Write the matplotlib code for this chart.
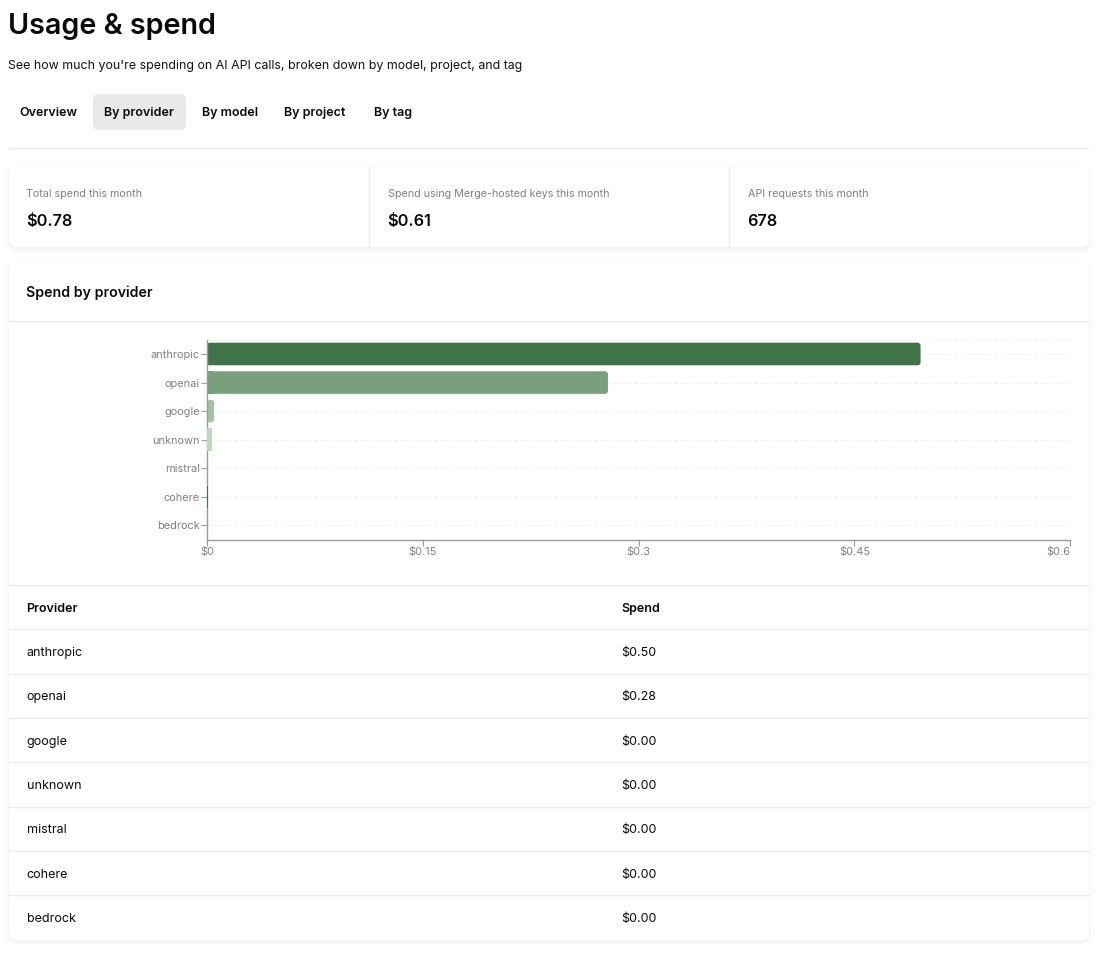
# Usage & spend page - spend by provider

import matplotlib
matplotlib.use('Agg')
import matplotlib.pyplot as plt
from matplotlib.patches import FancyBboxPatch

plt.rcParams['font.family'] = ['Inter', 'DejaVu Sans']

# -------------------------------
# Data
# -------------------------------
providers = ['anthropic', 'openai', 'google', 'unknown', 'mistral', 'cohere', 'bedrock']
spend = [0.496, 0.2787, 0.0049, 0.0035, 0.0002, 0.0008, 0.0001]
spend_labels = ['$0.50', '$0.28', '$0.00', '$0.00', '$0.00', '$0.00', '$0.00']
bar_colors = ['#41734a', '#7a9f7d', '#a7c0a9', '#c2d4c4', '#dbe5dc', '#41734a', '#a7c0a9']
x_ticks = [0, 0.15, 0.3, 0.45, 0.6]
x_tick_labels = ['$0', '$0.15', '$0.3', '$0.45', '$0.6']
tabs = ['Overview', 'By provider', 'By model', 'By project', 'By tag']
tab_x = [20, 105, 202, 285, 374]
stat_titles = ['Total spend this month', 'Spend using Merge-hosted keys this month', 'API requests this month']
stat_values = ['$0.78', '$0.61', '678']
stat_x = [27, 388, 748]
row_lines = [585, 629, 674, 718, 762, 807, 851, 895]
row_text_y = [651, 695, 740, 784, 828, 873, 917]

W, H = 1103, 956
fig = plt.figure(figsize=(W / 100, H / 100), dpi=100, facecolor='white')

# page axes works in pixels, y going down
page = fig.add_axes([0, 0, 1, 1])
page.set_xlim(0.7, W + 0.7)
page.set_ylim(H + 0.7, 0.7)
page.axis('off')


def label(x, y, s, **kw):
    # text sits a bit high with va=center, so push it down
    page.text(x + 0.2, y + 2.2, s, va='center', **kw)


def card(x0, y0, x1, y1):
    # soft shadow first, then the white card
    for grow, a in [(6, 0.005), (4, 0.008), (2, 0.012), (1, 0.016)]:
        page.add_patch(FancyBboxPatch((x0 - grow, y0 - grow + 2), x1 - x0 + 2 * grow, y1 - y0 + 2 * grow,
                                      boxstyle='round,pad=0,rounding_size=%d' % (8 + grow),
                                      fc='black', ec='none', alpha=a))
    page.add_patch(FancyBboxPatch((x0, y0), x1 - x0, y1 - y0, boxstyle='round,pad=0,rounding_size=8',
                                  fc='white', ec='none'))


# -------------------------------
# Header and tabs
# -------------------------------
label(9, 25, 'Usage & spend', fontsize=20.7, fontweight='semibold', color='#0a0a0a')
label(9, 64, "See how much you're spending on AI API calls, broken down by model, project, and tag",
      fontsize=8.93, color='#111111')
page.add_patch(FancyBboxPatch((93.7, 94.7), 93, 36, boxstyle='round,pad=0,rounding_size=6', fc='#e9e9e8', ec='none'))
for name, x in zip(tabs, tab_x):
    label(x, 111, name, fontsize=9, fontweight='semibold', color='#0a0a0a')
page.plot([9.7, 1089], [149, 149], color='#ebebeb', lw=1)

# -------------------------------
# Stat cards
# -------------------------------
card(9.7, 167.7, 1089.7, 247.7)
for x in [370, 730]:
    page.plot([x, x], [167.7, 247.7], color='#ebebeb', lw=1)
for title, value, x in zip(stat_titles, stat_values, stat_x):
    label(x, 192, title, fontsize=7.72, color='#808080')
    label(x, 220, value, fontsize=11.7, fontweight='semibold', color='#0a0a0a')

# -------------------------------
# Chart card and table
# -------------------------------
card(9.7, 263.7, 1089.7, 940.7)
label(27, 291, 'Spend by provider', fontsize=10.2, fontweight='semibold', color='#0a0a0a')
page.plot([9.7, 1089], [322, 322], color='#ebebeb', lw=1)
for y in row_lines:
    page.plot([9.7, 1089], [y + 1, y + 1], color='#ebebeb', lw=1)
label(27, 607, 'Provider', fontsize=9, fontweight='semibold', color='#0a0a0a')
label(622, 607, 'Spend', fontsize=9, fontweight='semibold', color='#0a0a0a')
for name, amount, y in zip(providers, spend_labels, row_text_y):
    label(27, y, name, fontsize=9, color='#0a0a0a')
    label(622, y, amount, fontsize=9, color='#0a0a0a')

# -------------------------------
# Bar chart
# -------------------------------
left, right, top, bottom = 207.0, 1070.2, 339.7, 539.7
ax = fig.add_axes([left / W, 1 - bottom / H, (right - left) / W, (bottom - top) / H])
ax.patch.set_alpha(0)
ax.set_xlim(0, 0.6)
ax.set_ylim(len(providers) - 0.5, -0.5)

ax.grid(axis='y', color='#eeeeee', linestyle=(0, (3, 3)), lw=0.8)
ax.set_axisbelow(True)
ax.plot([0, 0.6], [-0.5, -0.5], color='#eeeeee', linestyle=(0, (3, 3)), lw=0.8, clip_on=False, zorder=0.5)

bar_h = 0.79
x_per_px = 0.6 / (right - left)
y_per_px = len(providers) / (bottom - top)
radius = 3 * x_per_px
for i, (value, color) in enumerate(zip(spend, bar_colors)):
    # square left edge from barh, rounded right edge from the patch
    if value > radius * 2:
        ax.barh(i, radius * 2, height=bar_h, color=color, zorder=2)
        ax.add_patch(FancyBboxPatch((0, i - bar_h / 2), value, bar_h,
                                    boxstyle='round,pad=0,rounding_size=%f' % radius,
                                    mutation_aspect=y_per_px / x_per_px, fc=color, ec='none', zorder=2))
    else:
        ax.barh(i, value, height=bar_h, color=color, zorder=3)

for side in ['top', 'right']:
    ax.spines[side].set_visible(False)
for side in ['left', 'bottom']:
    ax.spines[side].set_color('#999999')
    ax.spines[side].set_linewidth(1)

ax.set_yticks(range(len(providers)))
ax.set_yticklabels(providers)
ax.set_xticks(x_ticks)
ax.set_xticklabels(x_tick_labels)
ax.tick_params(axis='y', length=4.5, width=0.8, color='#999999', labelcolor='#808080', labelsize=7.9, pad=0.5)
ax.tick_params(axis='x', length=4, width=0.8, color='#999999', labelcolor='#808080', labelsize=7.9, pad=1.5)
ax.get_xticklabels()[-1].set_ha('right')

fig.savefig('out.png', dpi=100)
